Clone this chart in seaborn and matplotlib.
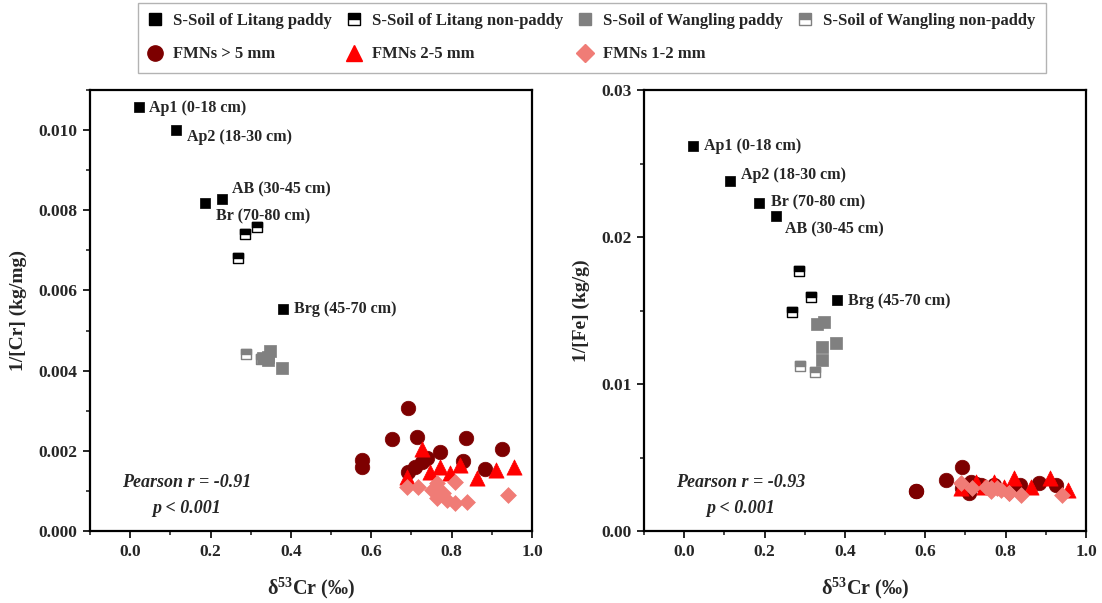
import matplotlib
matplotlib.use("Agg")
import matplotlib.pyplot as plt
import seaborn as sns
import numpy as np
from matplotlib.markers import MarkerStyle
from matplotlib.lines import Line2D
from matplotlib.ticker import MultipleLocator, FormatStrFormatter

# ---- soil profiles (x = d53Cr, y1 = 1/[Cr], y2 = 1/[Fe]) ----
litang_paddy_x = [0.021, 0.114, 0.187, 0.229, 0.381]
litang_paddy_cr = [0.01058, 0.01000, 0.00819, 0.00828, 0.00554]
litang_paddy_fe = [0.0262, 0.0238, 0.0223, 0.0214, 0.0157]
litang_labels = ["Ap1 (0-18 cm)", "Ap2 (18-30 cm)", "Br (70-80 cm)", "AB (30-45 cm)", "Brg (45-70 cm)"]

litang_np_x = [0.285, 0.316, 0.268]
litang_np_cr = [0.00741, 0.00759, 0.00680]
litang_np_fe = [0.0177, 0.0159, 0.0149]

wangling_paddy_x = [0.330, 0.347, 0.344, 0.344, 0.378]
wangling_paddy_cr = [0.00431, 0.00449, 0.00426, 0.00435, 0.00406]
wangling_paddy_fe = [0.0141, 0.0142, 0.0125, 0.0116, 0.0128]

wangling_np_x = [0.287, 0.326]
wangling_np_cr = [0.00441, 0.00430]
wangling_np_fe = [0.0112, 0.0108]

# ---- FMNs ----
fmn5_x = [0.576, 0.576, 0.652, 0.692, 0.715, 0.836, 0.771, 0.926, 0.692, 0.709, 0.726, 0.738, 0.828, 0.883]
fmn5_cr = [0.00177, 0.00160, 0.00229, 0.00308, 0.00234, 0.00231, 0.00196, 0.00204, 0.00148, 0.00160, 0.00173, 0.00181, 0.00175, 0.00154]
fmn5_fe = [0.00274, 0.00270, 0.00347, 0.00433, 0.00336, 0.00313, 0.00310, 0.00313, 0.00290, 0.00256, 0.00320, 0.00310, 0.00300, 0.00324]

fmn25_x = [0.726, 0.688, 0.746, 0.771, 0.796, 0.821, 0.862, 0.911, 0.955]
fmn25_cr = [0.00204, 0.00134, 0.00148, 0.00159, 0.00144, 0.00165, 0.00131, 0.00152, 0.00159]
fmn25_fe = [0.00330, 0.00290, 0.00300, 0.00336, 0.00300, 0.00358, 0.00301, 0.00358, 0.00279]

fmn12_x = [0.688, 0.717, 0.750, 0.763, 0.763, 0.788, 0.808, 0.808, 0.838, 0.779, 0.941]
fmn12_cr = [0.00109, 0.00110, 0.00102, 0.00119, 0.00082, 0.00077, 0.00123, 0.00069, 0.00073, 0.00094, 0.00090]
fmn12_fe = [0.00324, 0.00290, 0.00301, 0.00290, 0.00270, 0.00280, 0.00256, 0.00260, 0.00245, 0.00290, 0.00245]

pearson_text = ["Pearson r = -0.91", "Pearson r = -0.93"]
ylabels = ["1/[Cr] (kg/mg)", "1/[Fe] (kg/g)"]

# label offsets (pixels) for each horizon in each panel
offsets_cr = [(10, -1), (11, -7), (11, -14), (10, 10), (11, 0)]
offsets_fe = [(11, 0), (11, 6), (12, 1), (9, -13), (11, -1)]

sns.set_theme(style="ticks")
plt.rcParams["font.family"] = ["Liberation Serif", "DejaVu Serif"]
plt.rcParams["font.weight"] = "bold"
plt.rcParams["axes.labelweight"] = "bold"
plt.rcParams["mathtext.fontset"] = "custom"
plt.rcParams["mathtext.rm"] = "Liberation Serif:bold"
plt.rcParams["mathtext.it"] = "Liberation Serif:italic:bold"
plt.rcParams["mathtext.bf"] = "Liberation Serif:bold"

BLACK = "#000000"
GRAY = "#808080"
MAROON = "#7d0000"
RED = "#ff0000"
SALMON = "#f07c76"
TOP_SQ = MarkerStyle("s", fillstyle="top")

fig = plt.figure(figsize=(11.02, 6.03), dpi=100)
ax1 = fig.add_axes([90 / 1102, 1 - 531 / 603, 442 / 1102, 441 / 603])
ax2 = fig.add_axes([644 / 1102, 1 - 531 / 603, 442 / 1102, 441 / 603])

panels = [
    (ax1, litang_paddy_cr, litang_np_cr, wangling_paddy_cr, wangling_np_cr, fmn5_cr, fmn25_cr, fmn12_cr, offsets_cr),
    (ax2, litang_paddy_fe, litang_np_fe, wangling_paddy_fe, wangling_np_fe, fmn5_fe, fmn25_fe, fmn12_fe, offsets_fe),
]

for i, (ax, lp, lnp, wp, wnp, f5, f25, f12, offs) in enumerate(panels):
    sq = 62
    # half-filled squares: white square with edge, then filled top half
    sns.scatterplot(x=litang_np_x, y=lnp, ax=ax, marker="s", s=sq, color=BLACK,
                    facecolor="white", edgecolor=BLACK, linewidth=1.0)
    sns.scatterplot(x=litang_np_x, y=lnp, ax=ax, marker=TOP_SQ, s=sq, color=BLACK,
                    edgecolor=BLACK, linewidth=1.0)
    sns.scatterplot(x=wangling_np_x, y=wnp, ax=ax, marker="s", s=sq, color=GRAY,
                    facecolor="white", edgecolor=GRAY, linewidth=1.0)
    sns.scatterplot(x=wangling_np_x, y=wnp, ax=ax, marker=TOP_SQ, s=sq, color=GRAY,
                    edgecolor=GRAY, linewidth=1.0)
    sns.scatterplot(x=wangling_paddy_x, y=wp, ax=ax, marker="s", s=sq + 20, color=GRAY,
                    edgecolor=GRAY, linewidth=0.5)
    sns.scatterplot(x=litang_paddy_x, y=lp, ax=ax, marker="s", s=sq, color=BLACK,
                    edgecolor=BLACK, linewidth=0.5)

    sns.scatterplot(x=fmn5_x, y=f5, ax=ax, marker="o", s=110, color=MAROON,
                    edgecolor=MAROON, linewidth=0.5)
    sns.scatterplot(x=fmn25_x, y=f25, ax=ax, marker="^", s=120, color=RED,
                    edgecolor=RED, linewidth=0.5)
    sns.scatterplot(x=fmn12_x, y=f12, ax=ax, marker="D", s=65, color=SALMON,
                    edgecolor=SALMON, linewidth=0.5)

    for xv, yv, lab, off in zip(litang_paddy_x, lp, litang_labels, offs):
        ax.annotate(lab, (xv, yv), xytext=off, textcoords="offset pixels",
                    ha="left", va="center", fontsize=11.5, fontweight="bold")

    ax.text(0.219, 0.109, pearson_text[i], transform=ax.transAxes, ha="center", va="center",
            fontsize=13, fontweight="bold", style="italic")
    ax.text(0.219, 0.052, "p < 0.001", transform=ax.transAxes, ha="center", va="center",
            fontsize=13, fontweight="bold", style="italic")

    ax.set_xlim(-0.1, 1.0)
    ax.set_xticks(np.arange(0, 1.01, 0.2))
    ax.xaxis.set_minor_locator(MultipleLocator(0.1))
    ax.xaxis.set_major_formatter(FormatStrFormatter("%.1f"))
    ax.set_xlabel("δ$^{53}$Cr (‰)", fontsize=14.5, fontweight="bold", labelpad=12)
    ax.set_ylabel(ylabels[i], fontsize=14, fontweight="bold", labelpad=8)

    for sp in ax.spines.values():
        sp.set_visible(True)
        sp.set_linewidth(1.6)
        sp.set_color("black")
    ax.tick_params(axis="both", which="major", direction="out", length=5, width=1.4,
                   labelsize=12.5, pad=4, top=False, right=False)
    ax.tick_params(axis="both", which="minor", direction="out", length=3, width=1.2,
                   top=False, right=False)

ax1.set_ylim(0, 0.011)
ax1.set_yticks(np.arange(0, 0.0101, 0.002))
ax1.yaxis.set_minor_locator(MultipleLocator(0.001))
ax1.yaxis.set_major_formatter(FormatStrFormatter("%.3f"))

ax2.set_ylim(0, 0.03)
ax2.set_yticks([0, 0.01, 0.02, 0.03])
ax2.yaxis.set_minor_locator(MultipleLocator(0.005))
ax2.yaxis.set_major_formatter(FormatStrFormatter("%.2f"))

for ax in (ax1, ax2):
    for lab in ax.get_xticklabels() + ax.get_yticklabels():
        lab.set_fontweight("bold")

# ---- legend ----
def handle(marker, fc, ec, ms, fill="full", alt="white"):
    return Line2D([], [], linestyle="none", marker=marker, markersize=ms,
                  markerfacecolor=fc, markeredgecolor=ec, fillstyle=fill,
                  markerfacecoloralt=alt, markeredgewidth=1.0)

handles = [
    handle("s", BLACK, BLACK, 9),
    handle("o", MAROON, MAROON, 11),
    handle("s", BLACK, BLACK, 9, fill="top"),
    handle("^", RED, RED, 11),
    handle("s", GRAY, GRAY, 9),
    handle("D", SALMON, SALMON, 9),
    handle("s", GRAY, GRAY, 9, fill="top"),
    Line2D([], [], linestyle="none"),
]
labels = [
    "S-Soil of Litang paddy", "FMNs > 5 mm",
    "S-Soil of Litang non-paddy", "FMNs 2-5 mm",
    "S-Soil of Wangling paddy", "FMNs 1-2 mm",
    "S-Soil of Wangling non-paddy", "",
]
leg = fig.legend(handles, labels, ncol=4, loc="upper center",
                 bbox_to_anchor=(592 / 1102, 1 - 3 / 603), borderaxespad=0,
                 frameon=True, fancybox=False, edgecolor="#a0a0a0", fontsize=12,
                 handlelength=0.8, handletextpad=0.7, columnspacing=0.9,
                 labelspacing=1.05, borderpad=0.6, numpoints=1)
leg.get_frame().set_linewidth(1.0)
for t in leg.get_texts():
    t.set_fontweight("bold")

fig.savefig("out.png", dpi=100)
plt.close(fig)
